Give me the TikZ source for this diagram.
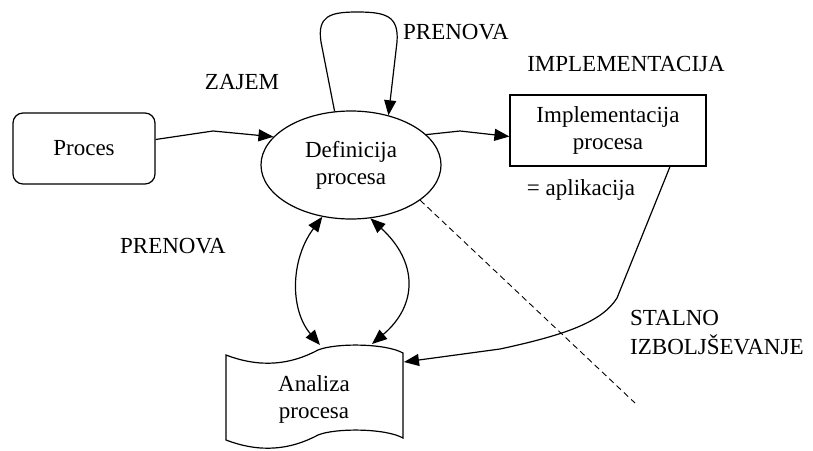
\documentclass[tikz,border=0pt]{standalone}
\usepackage{fontspec}
\setmainfont{Liberation Serif}
\usetikzlibrary{arrows.meta,shapes.geometric}
\begin{document}
\begin{tikzpicture}[x=1pt,y=-1pt,
  every node/.style={font=\fontsize{23}{27}\selectfont, inner sep=0pt, align=center},
  conn/.style={line width=1.2pt, -{Triangle[length=15pt,width=12pt]}},
  bothconn/.style={line width=1.2pt, {Triangle[length=15pt,width=12pt]}-{Triangle[length=15pt,width=12pt]}},
  shapeline/.style={line width=1.2pt},
  label/.style={anchor=center}]
\useasboundingbox (0,0) rectangle (813,450);

% process boxes
\node[draw, shapeline, rounded corners=10pt, minimum width=142pt, minimum height=71pt] (proc) at (84,148.5) {Proces};
\node[draw, shapeline, ellipse, minimum width=180pt, minimum height=108pt] (def) at (351,165) {Definicija\\procesa};
\node[draw, shapeline, minimum width=196pt, minimum height=71pt] (impl) at (608,130.5) {Implementacija\\procesa};

% punched-tape shape for the analysis step
\draw[shapeline] (226,355) .. controls (260,368) and (290,365) .. (318,350)
  .. controls (335,343) and (385,343) .. (403,353)
  -- (403,438) .. controls (385,428) and (335,428) .. (318,435)
  .. controls (290,450) and (260,453) .. (226,440) -- cycle;
\node (anal) at (314,399) {Analiza\\procesa};
\coordinate (analL) at (320,345);
\coordinate (analR) at (372,344);
\coordinate (analE) at (404,362);

% labels
\node[label] (zajem) at (242,82) {ZAJEM};
\node[label] (prenovaT) at (456,32) {PRENOVA};
\node[label] (implLbl) at (626,64) {IMPLEMENTACIJA};
\node[label] (aplik) at (581,190) {= aplikacija};
\node[label] (prenovaL) at (173,246) {PRENOVA};
\node[anchor=west] (stalno) at (630,318) {STALNO};
\node[anchor=west] (izbolj) at (630,345) {IZBOLJŠEVANJE};

% connectors
\draw[conn] ([yshift=9pt]proc.east) -- (213,131) -- (def.160);
\draw[conn] (def.22) -- (460,131) -- ([yshift=-6pt]impl.west);
\draw[conn] (def.107) -- (321,42) .. controls (317,16) and (330,12) .. (357,12)
  .. controls (386,12) and (399,16) .. (397,42) -- (def.53);
\draw[bothconn] (def.241) .. controls (290,260) and (290,310) .. (analL);
\draw[bothconn] (def.290) .. controls (418,262) and (418,305) .. (analR);
\draw[conn] ([xshift=62pt]impl.south) -- (617,298) .. controls (602,322) and (565,335) .. (500,349) -- (analE);

% boundary of continuous improvement
\coordinate (dashEnd) at (635,403);
\draw[line width=0.9pt, dash pattern=on 6pt off 4pt] (def.333) -- (dashEnd);
\end{tikzpicture}
\end{document}
